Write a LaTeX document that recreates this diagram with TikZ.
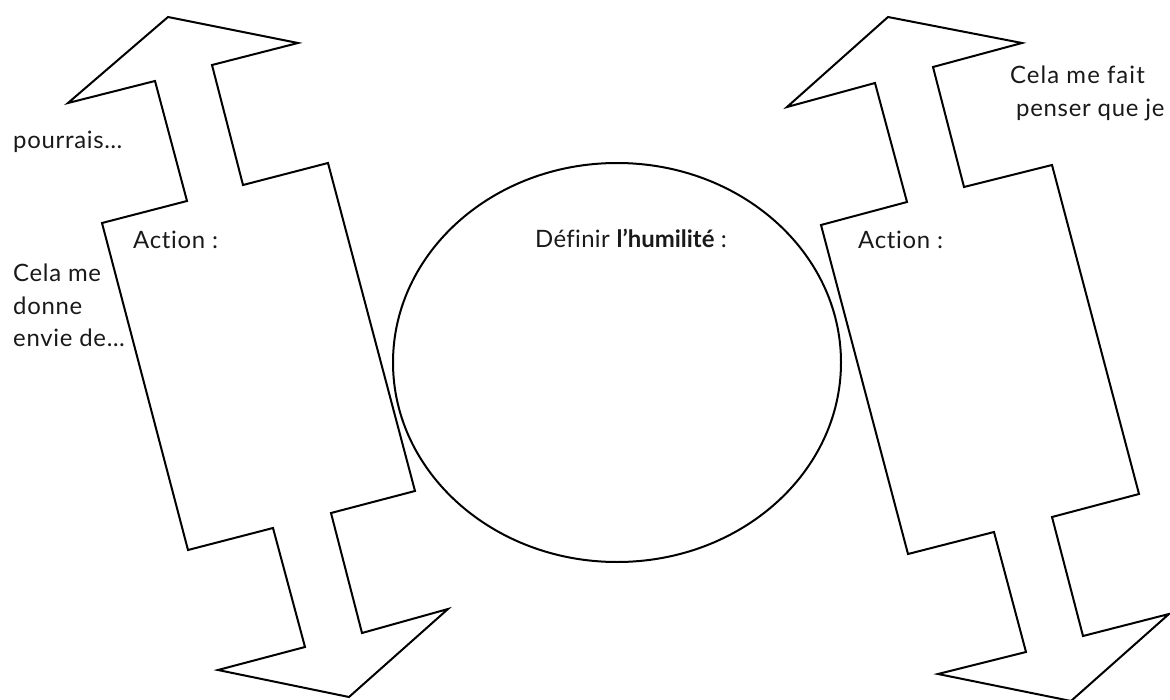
\documentclass[tikz,border=0pt]{standalone}
\usepackage{fontspec}
\setmainfont{Lato}[LetterSpace=3,Ligatures={NoCommon}]
\begin{document}
\begin{tikzpicture}[x=1bp,y=-1bp,
  outline/.style={draw=black,line width=2bp,line join=miter},
  lbl/.style={anchor=base west,inner sep=0pt,text=black!90,font=\fontsize{24}{28}\selectfont}]
\useasboundingbox (0,0) rectangle (1170,700);
\begin{scope}
\clip (0,0) rectangle (1170,700);
% left double arrow
\draw[outline] (168,17) -- (298,43) -- (212,65) -- (243,185) -- (328,163)
  -- (415,491) -- (331,513) -- (362,633) -- (448,609) -- (349,697)
  -- (218,670) -- (305,647) -- (273,528) -- (188,550) -- (102,223)
  -- (187,201) -- (155,81) -- (68,103) -- cycle;
% right double arrow
\draw[outline] (888,17) -- (1022,43) -- (933,67) -- (964,187) -- (1052,165)
  -- (1139,494) -- (1052,517) -- (1083,636) -- (1169,614) -- (1071,701)
  -- (938,674) -- (1026,652) -- (994,532) -- (908,554) -- (821,225)
  -- (907,202) -- (875,83) -- (787,107) -- cycle;
% central ellipse
\draw[outline] (617,362.5) ellipse [x radius=224, y radius=199.5];
\end{scope}
\node[lbl] (pourrais) at (13,149) {pourrais…};
\node[lbl] (actionL) at (133,248) {Action :};
\node[lbl] (cela1) at (13,281) {Cela me};
\node[lbl] (cela2) at (13,314) {donne};
\node[lbl] (cela3) at (13,346) {envie de…};
\node[lbl] (definir) at (535,247) {\addfontfeature{LetterSpace=1.5}Définir \textbf{\addfontfeature{LetterSpace=0}l’humilité} :};
\node[lbl] (actionR) at (858,248) {Action :};
\node[lbl] (fait1) at (1010,84) {\addfontfeature{LetterSpace=4.5}Cela me fait};
\node[lbl] (fait2) at (1016,117) {penser que je};
\end{tikzpicture}
\end{document}
